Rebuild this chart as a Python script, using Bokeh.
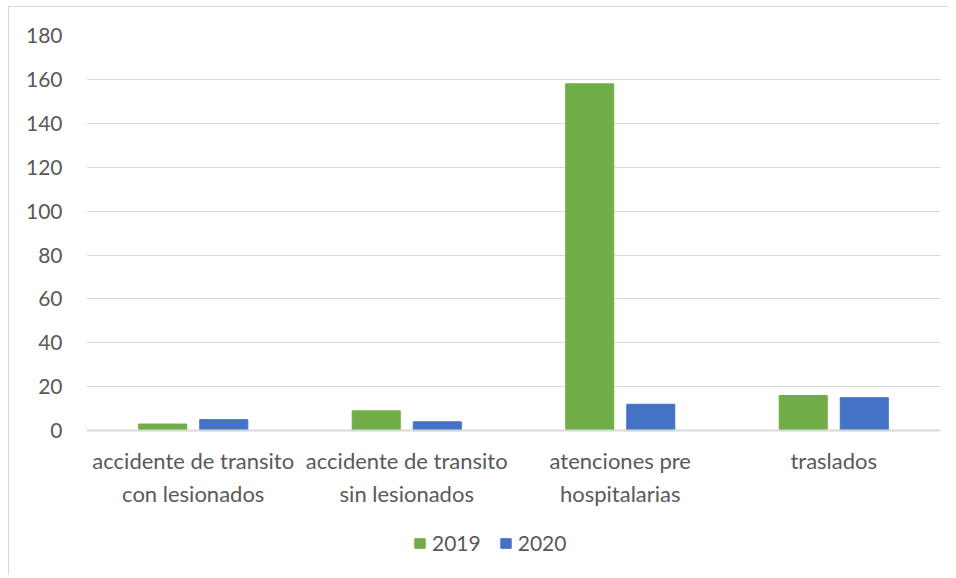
from bokeh.plotting import figure
from bokeh.models import ColumnDataSource, FactorRange, Range1d, Legend, LegendItem, FixedTicker
from bokeh.transform import dodge
from bokeh.embed import file_html
from bokeh.resources import INLINE

categories = ["accidente de transito\ncon lesionados", "accidente de transito\nsin lesionados",
              "atenciones pre\nhospitalarias", "traslados"]
values_2019 = [3, 9, 158, 16]
values_2020 = [5, 4, 12, 15]
y_ticks = [0, 20, 40, 60, 80, 100, 120, 140, 160, 180]

FONT = "Lato"
TEXT = "#595959"
GRID = "#D9D9D9"

src = ColumnDataSource(dict(cat=categories, y19=values_2019, y20=values_2020))

# frame extends below the zero line to leave room for the legend
p = figure(frame_width=854, frame_height=540, x_range=FactorRange(*categories, range_padding=0),
           y_range=Range1d(-66, 180), output_backend="svg", toolbar_location=None,
           min_border_left=77, min_border_right=8, min_border_top=28, min_border_bottom=0)
p.outline_line_color = None
p.border_fill_color = "white"

r1 = p.vbar(x=dodge("cat", -0.143, range=p.x_range), top="y19", width=0.225, source=src,
            fill_color="#70AD47", line_color="#70AD47")
r2 = p.vbar(x=dodge("cat", 0.143, range=p.x_range), top="y20", width=0.225, source=src,
            fill_color="#4472C4", line_color="#4472C4")

p.xgrid.grid_line_color = None
p.ygrid.grid_line_color = GRID
p.ygrid.grid_line_width = 1
p.ygrid.ticker = FixedTicker(ticks=y_ticks)
p.yaxis.ticker = FixedTicker(ticks=y_ticks)
p.yaxis.axis_line_color = None
p.yaxis.major_tick_line_color = None
p.yaxis.minor_tick_line_color = None
p.yaxis.major_label_standoff = 18
p.yaxis.major_label_text_font = FONT
p.yaxis.major_label_text_font_size = "21px"
p.yaxis.major_label_text_color = TEXT

p.xaxis.fixed_location = 0
p.xaxis.axis_line_color = GRID
p.xaxis.axis_line_width = 2
p.xaxis.major_tick_line_color = None
p.xaxis.minor_tick_line_color = None
p.xaxis.major_label_standoff = 10
p.xaxis.major_label_text_font = FONT
p.xaxis.major_label_text_font_size = "22px"
p.xaxis.major_label_text_color = TEXT
p.xaxis.major_label_text_line_height = 1.25

legend = Legend(items=[LegendItem(label="2019", renderers=[r1]),
                       LegendItem(label="2020", renderers=[r2])],
                orientation="horizontal", location=(327, 20),
                label_text_font=FONT, label_text_font_size="21px", label_text_color=TEXT,
                glyph_width=13, glyph_height=12, spacing=18, border_line_color=None,
                background_fill_alpha=0, padding=4, margin=0, label_standoff=6)
p.add_layout(legend, "center")

p.styles = {"border-left": "1px solid #D9D9D9", "border-top": "1px solid #D9D9D9",
            "margin-left": "8px", "margin-top": "6px"}

open("out.html", "w").write(file_html(p, INLINE))
